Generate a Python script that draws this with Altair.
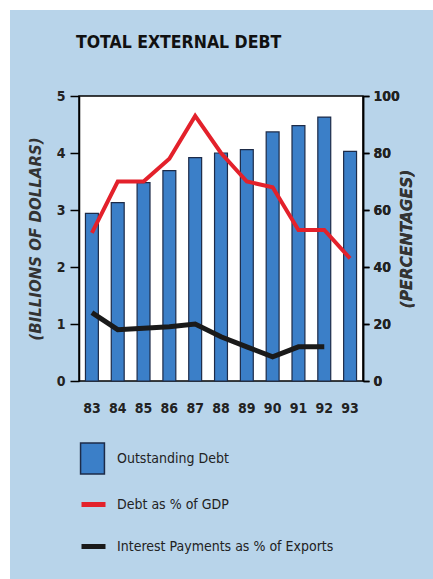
import altair as alt
import pandas as pd

# Fiscal years shown along the bottom axis
years = ["83", "84", "85", "86", "87", "88", "89", "90", "91", "92", "93"]

# Outstanding external debt, billions of dollars (left axis)
outstanding_debt = [2.94, 3.13, 3.48, 3.69, 3.92, 4.00, 4.06, 4.37, 4.48, 4.63, 4.03]

# Debt as a percentage of GDP (right axis)
debt_pct_gdp = [52, 70, 70, 78, 93, 80, 70, 68, 53, 53, 43]

# Interest payments as a percentage of exports (right axis, no 1993 figure)
interest_years = ["83", "84", "85", "86", "87", "88", "89", "90", "91", "92"]
interest_pct_exports = [24, 18, 18.5, 19, 20, 15.5, 12, 8.5, 12, 12]

chart_title = "TOTAL EXTERNAL DEBT"
bar_label = "Outstanding Debt"
gdp_label = "Debt as % of GDP"
interest_label = "Interest Payments as % of Exports"

BG = "#b8d4ea"
BAR = "#3b7fc8"
BAR_EDGE = "#1d2b48"
RED = "#e3212b"
BLACK = "#1a1a1a"
NARROW = "DejaVu Sans Condensed, Liberation Sans Narrow, sans-serif"
WIDE = "DejaVu Sans, Liberation Sans, sans-serif"

bars_df = pd.DataFrame({"year": years, "debt": outstanding_debt, "series": bar_label})
lines_df = pd.concat([
    pd.DataFrame({"year": years, "pct": debt_pct_gdp, "series": gdp_label}),
    pd.DataFrame({"year": interest_years, "pct": interest_pct_exports, "series": interest_label}),
], ignore_index=True)

x_enc = alt.X(
    "year:N",
    sort=years,
    scale=alt.Scale(paddingInner=0.5, paddingOuter=0.25),
    axis=alt.Axis(
        title=None, labelAngle=0, ticks=False, domain=False,
        labelFont=NARROW, labelFontSize=14, labelFontWeight="bold",
        labelColor="#222222", labelPadding=20,
    ),
)

bars = alt.Chart(bars_df).mark_bar(stroke=BAR_EDGE, strokeWidth=1.2).encode(
    x=x_enc,
    y=alt.Y(
        "debt:Q",
        scale=alt.Scale(domain=[0, 5], nice=False),
        axis=alt.Axis(
            title="(BILLIONS OF DOLLARS)", values=[0, 1, 2, 3, 4, 5], grid=False,
            tickSize=9, tickColor="black", tickWidth=1.5,
            domainColor="black", domainWidth=1.5,
            labelFont=NARROW, labelFontSize=14, labelFontWeight="bold",
            labelColor="#222222", labelPadding=5,
            titleFont=WIDE, titleFontSize=15, titleFontWeight="bold",
            titleFontStyle="italic", titleColor="#333333", titlePadding=13,
        ),
    ),
    fill=alt.Fill(
        "series:N",
        scale=alt.Scale(domain=[bar_label], range=[BAR]),
        legend=alt.Legend(
            orient="none", legendX=-3, legendY=346, title=None, padding=0,
            symbolType="M-0.77,-1H0.77V1H-0.77Z", symbolSize=961,
            symbolStrokeColor=BAR_EDGE, symbolStrokeWidth=1.5, symbolOpacity=1,
            labelFont=NARROW, labelFontSize=14, labelColor="#222222",
            labelOffset=8, labelLimit=400,
        ),
    ),
)

line_y = alt.Y(
    "pct:Q",
    scale=alt.Scale(domain=[0, 100], nice=False),
    axis=alt.Axis(
        orient="right", title="(PERCENTAGES)", values=[0, 20, 40, 60, 80, 100], grid=False,
        tickSize=6, tickColor="black", tickWidth=1.5,
        domainColor="black", domainWidth=1.5,
        labelFont=NARROW, labelFontSize=14, labelFontWeight="bold",
        labelColor="#222222", labelPadding=4,
        titleFont=WIDE, titleFontSize=15.5, titleFontWeight="bold",
        titleFontStyle="italic", titleColor="#333333", titleAngle=270, titlePadding=15,
    ),
)

line_stroke = alt.Stroke(
    "series:N",
    scale=alt.Scale(domain=[gdp_label, interest_label], range=[RED, BLACK]),
    legend=alt.Legend(
        orient="none", legendX=0, legendY=394, title=None, padding=0,
        symbolType="stroke", symbolSize=576, symbolStrokeWidth=5, rowPadding=17,
        labelFont=NARROW, labelFontSize=14, labelColor="#222222",
        labelOffset=9, labelLimit=400,
    ),
)

gdp_line = alt.Chart(lines_df).transform_filter(
    alt.datum.series == gdp_label
).mark_line(strokeWidth=4).encode(x=x_enc, y=line_y, stroke=line_stroke)

interest_line = alt.Chart(lines_df).transform_filter(
    alt.datum.series == interest_label
).mark_line(strokeWidth=5).encode(x=x_enc, y=line_y, stroke=line_stroke)

# thin white margin along the left and top edges of the panel
edge = alt.Data(values=[{}])
left_edge = alt.Chart(edge).mark_rect(color="white").encode(
    x=alt.value(-79), x2=alt.value(-69), y=alt.value(-96), y2=alt.value(483)
)
top_edge = alt.Chart(edge).mark_rect(color="white").encode(
    x=alt.value(-79), x2=alt.value(354), y=alt.value(-96), y2=alt.value(-86)
)

# heading set above the plot, flush with the left axis
heading = alt.Chart(edge).mark_text(
    align="left", baseline="alphabetic", font=NARROW, fontSize=17.5,
    fontWeight="bold", color="#111111",
).encode(x=alt.value(-3), y=alt.value(-48), text=alt.value(chart_title))

chart = alt.layer(
    left_edge, top_edge, heading, bars, gdp_line, interest_line
).resolve_scale(
    y="independent"
).properties(
    width=284,
    height=285,
    background=BG,
    padding={"left": 79, "top": 96, "right": 70, "bottom": 198},
    autosize=alt.AutoSizeParams(type="none"),
).configure_view(
    fill="white", stroke="black", strokeWidth=1.5
)

chart.save("out.html", embed_options={"renderer": "svg", "actions": False})
